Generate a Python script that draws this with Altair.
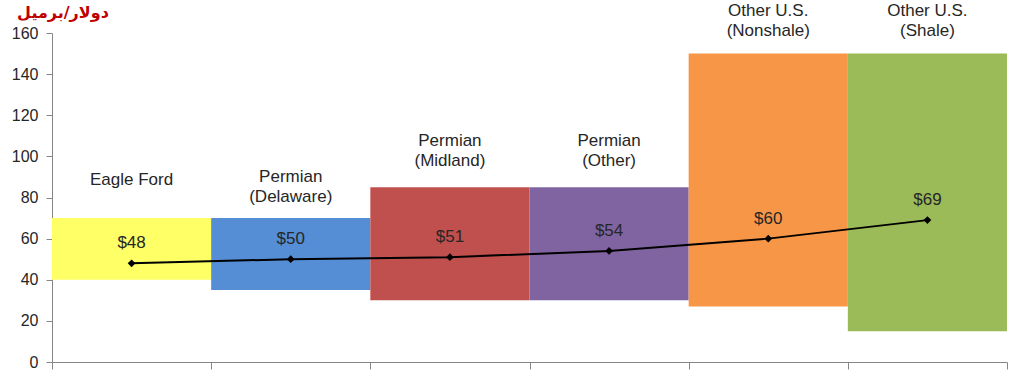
import altair as alt
import pandas as pd

categories = ["Eagle Ford", "Permian\n(Delaware)", "Permian\n(Midland)", "Permian\n(Other)",
              "Other U.S.\n(Nonshale)", "Other U.S.\n(Shale)"]
range_low = [40, 35, 30, 30, 27, 15]
range_high = [70, 70, 85, 85, 150, 150]
breakeven = [48, 50, 51, 54, 60, 69]
price_labels = ["$48", "$50", "$51", "$54", "$60", "$69"]
label_y = [88.5, 90, 107.5, 107.5, 170.5, 170.5]
colors = ["#FFFF66", "#558ED5", "#C0504D", "#8064A2", "#F79646", "#9BBB59"]
y_ticks = [0, 20, 40, 60, 80, 100, 120, 140, 160]
unit_title = "دولار/برميل"

df = pd.DataFrame({
    "cat": categories,
    "x0": list(range(len(categories))),
    "x1": [i + 1 for i in range(len(categories))],
    "xm": [i + 0.5 for i in range(len(categories))],
    "low": range_low,
    "high": range_high,
    "val": breakeven,
    "lab": price_labels,
    "ly": label_y,
    "color": colors,
})

TXT = "#262626"
xs = alt.Scale(domain=[0, 6], nice=False, zero=False)
ys = alt.Scale(domain=[0, 160], nice=False)

base = alt.Chart(df)

bars = base.mark_rect().encode(
    x=alt.X("x0:Q", scale=xs, axis=alt.Axis(values=[0, 1, 2, 3, 4, 5, 6], labels=False, title=None,
                                           grid=False, domainColor="#868686", tickColor="#868686",
                                           tickSize=7, domainWidth=1)),
    x2="x1:Q",
    y=alt.Y("low:Q", scale=ys, axis=alt.Axis(values=y_ticks, title=None, grid=False,
                                              domainColor="#868686", tickColor="#868686", tickSize=6,
                                              labelFontSize=16, labelFont="Liberation Sans",
                                              labelColor=TXT, labelPadding=8)),
    y2="high:Q",
    color=alt.Color("color:N", scale=None),
)

line = base.mark_line(color="black", strokeWidth=2).encode(
    x=alt.X("xm:Q", scale=xs), y=alt.Y("val:Q", scale=ys))

pts = base.mark_point(shape="diamond", filled=True, color="black", size=60, opacity=1).encode(
    x=alt.X("xm:Q", scale=xs), y=alt.Y("val:Q", scale=ys))

vals = base.mark_text(dy=-20, fontSize=17, font="Liberation Sans", color=TXT).encode(
    x=alt.X("xm:Q", scale=xs), y=alt.Y("val:Q", scale=ys), text="lab:N")

cats = base.mark_text(fontSize=17, font="Liberation Sans", color=TXT, lineBreak="\n",
                      lineHeight=20, baseline="middle").encode(
    x=alt.X("xm:Q", scale=xs), y=alt.Y("ly:Q", scale=ys), text="cat:N")

title = alt.Chart(pd.DataFrame({"t": [unit_title]})).mark_text(
    fontSize=16, font="DejaVu Sans", fontWeight="bold", color="#C00000", baseline="alphabetic",
    align="center").encode(x=alt.value(11), y=alt.value(-15), text="t:N")

chart = alt.layer(bars, line, pts, vals, cats, title).properties(
    width=955, height=329,
    padding={"left": 52, "top": 33, "right": 4, "bottom": 8},
    autosize=alt.AutoSizeParams(type="none"),
).configure_view(stroke=None)

chart.save("out.html", embed_options={"renderer": "svg", "actions": False})
